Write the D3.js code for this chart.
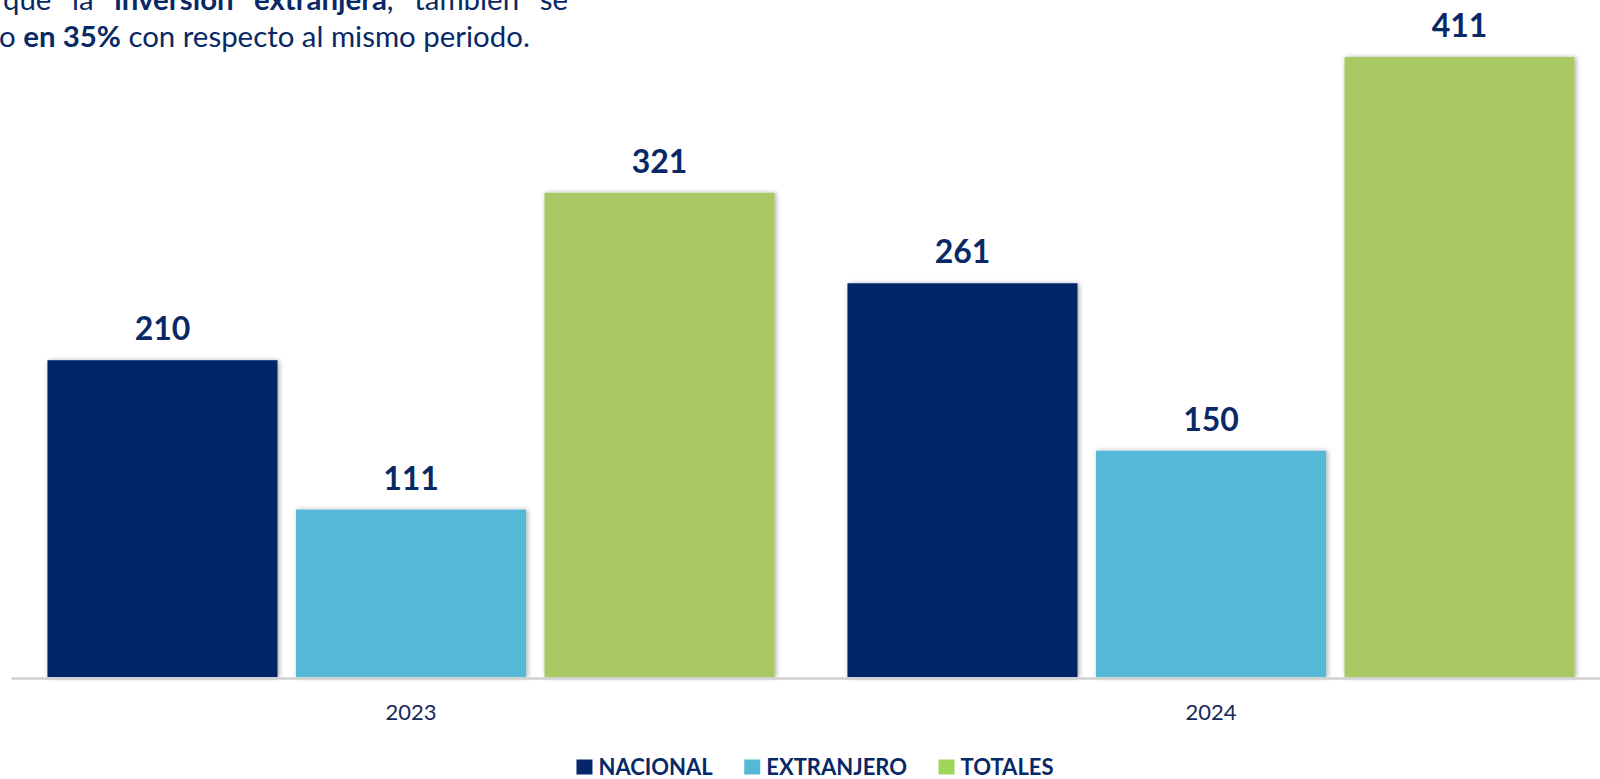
<!DOCTYPE html>
<html>
<head>
<meta charset="utf-8">
<script src="https://cdn.jsdelivr.net/npm/d3@7"></script>
<style>
  body { margin: 0; background: #fff; overflow: hidden; }
  svg { display: block; font-family: Lato, "Open Sans", sans-serif; }
</style>
</head>
<body>
<div id="canvas"></div>
<script>
// data
var years = ['2023', '2024'];
var series = ['NACIONAL', 'EXTRANJERO', 'TOTALES'];
var nacional = [210, 261];
var extranjero = [111, 150];
var totales = [321, 411];
var introLine1 = [['que la ', false], ['inversión extranjera', true], [', también se', false]];
var introLine2 = [['o ', false], ['en 35%', true], [' con respecto al mismo periodo.', false]];

var barColors = ['#06266a', '#55b8d6', '#a8c864'];
var legendColors = ['#06266a', '#55b8d6', '#9fd65a'];
var navy = '#082966';

var seriesValues = [nacional, extranjero, totales];

var width = 1600, height = 779;
var baseY = 677, topY = 57;

var svg = d3.select('#canvas').append('svg')
  .attr('width', width)
  .attr('height', height);

var defs = svg.append('defs');
var filt = defs.append('filter').attr('id', 'shadow')
  .attr('x', '-10%').attr('y', '-10%').attr('width', '120%').attr('height', '120%');
filt.append('feDropShadow')
  .attr('dx', 1.5).attr('dy', 0.5)
  .attr('stdDeviation', 2.5)
  .attr('flood-color', '#000')
  .attr('flood-opacity', 0.35);

// scales
var x0 = d3.scaleBand().domain(years).range([11, 1611]).padding(0);
var x1 = d3.scaleBand().domain(series).range([0, x0.bandwidth()])
  .paddingInner(0.0744).paddingOuter(0.1467);
var y = d3.scaleLinear().domain([0, d3.max(totales)]).range([baseY, topY]);

var rows = years.map(function (yr, i) {
  return {
    year: yr,
    bars: series.map(function (s, j) { return {name: s, value: seriesValues[j][i], color: barColors[j]}; })
  };
});

var groups = svg.selectAll('g.year')
  .data(rows)
  .enter()
  .append('g')
  .attr('class', 'year')
  .attr('transform', function (d) { return 'translate(' + x0(d.year) + ',0)'; });

groups.selectAll('rect')
  .data(function (d) { return d.bars; })
  .enter()
  .append('rect')
  .attr('x', function (d) { return x1(d.name); })
  .attr('y', function (d) { return y(d.value); })
  .attr('width', x1.bandwidth())
  .attr('height', function (d) { return y(0) - y(d.value); })
  .attr('fill', function (d) { return d.color; })
  .attr('filter', 'url(#shadow)');

groups.selectAll('text.val')
  .data(function (d) { return d.bars; })
  .enter()
  .append('text')
  .attr('class', 'val')
  .attr('x', function (d) { return x1(d.name) + x1.bandwidth() / 2; })
  .attr('y', function (d) { return y(d.value) - 20; })
  .attr('text-anchor', 'middle')
  .style('font-size', '32px')
  .style('font-weight', 'bold')
  .attr('fill', navy)
  .text(function (d) { return d.value; });

// x axis
var xAxis = svg.append('g')
  .attr('transform', 'translate(0,' + (baseY + 1) + ')')
  .call(d3.axisBottom(x0).tickSize(0).tickPadding(26));
xAxis.select('.domain').attr('stroke', '#d0d0d0').attr('stroke-width', 2.5);
xAxis.selectAll('text')
  .style('font-family', 'Lato, "Open Sans", sans-serif')
  .style('font-size', '22px')
  .attr('fill', '#14295a');

// legend
var legend = svg.append('g');
var lx = 0;
series.forEach(function (s, j) {
  var item = legend.append('g').attr('transform', 'translate(' + lx + ',0)');
  item.append('rect').attr('x', 0).attr('y', 759.5).attr('width', 16).attr('height', 15)
    .attr('fill', legendColors[j]);
  var t = item.append('text').attr('x', 22).attr('y', 775)
    .style('font-size', '22px').style('font-weight', 'bold')
    .attr('fill', navy).text(s);
  lx += 22 + t.node().getComputedTextLength() + 31.5;
});
var legendW = lx - 31.5;
legend.attr('transform', 'translate(' + (815 - legendW / 2) + ',0)');

// cut-off paragraph above the chart
function writeLine (parts, xPos, yPos, size) {
  var t = svg.append('text').attr('x', xPos).attr('y', yPos)
    .style('font-size', size + 'px').attr('fill', navy);
  parts.forEach(function (p) {
    t.append('tspan').style('font-weight', p[1] ? 'bold' : 'normal').text(p[0]);
  });
  return t;
}
var l2 = writeLine(introLine2, -1, 47, 25);
var fontSize = 25 * 531 / l2.node().getComputedTextLength();
l2.style('font-size', fontSize + 'px');
var l1 = writeLine(introLine1, 3, 10, fontSize);
var nSpaces = introLine1.map(function (p) { return p[0]; }).join('').split(' ').length - 1;
var extra = (568 - 3 - l1.node().getComputedTextLength()) / nSpaces;
l1.style('word-spacing', extra + 'px');
</script>
</body>
</html>
